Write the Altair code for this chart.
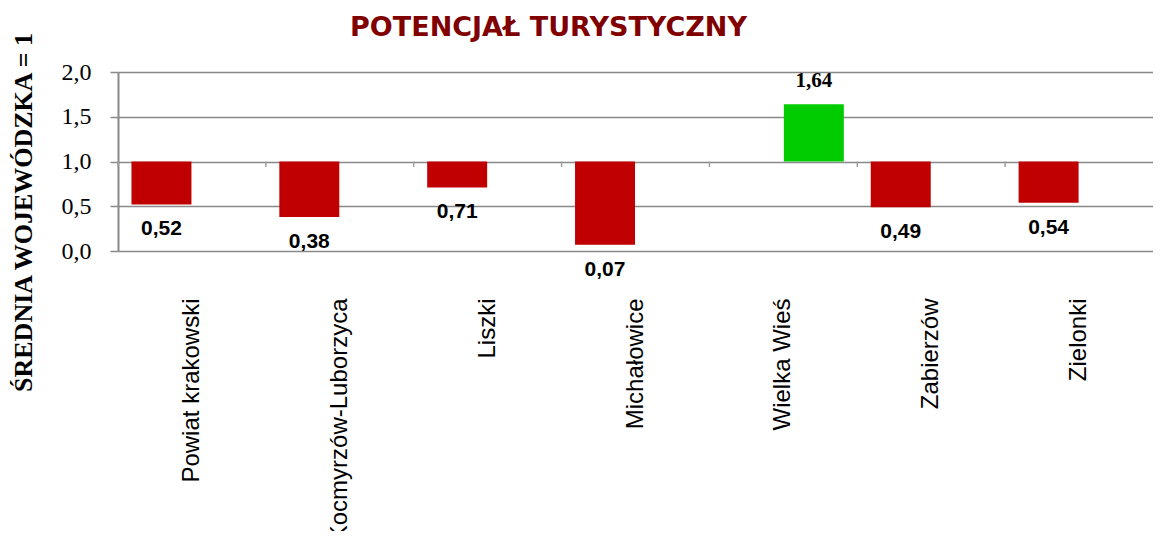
import altair as alt
import pandas as pd

categories = ["Powiat krakowski", "Kocmyrzów-Luborzyca", "Liszki", "Michałowice",
              "Wielka Wieś", "Zabierzów", "Zielonki"]
values = [0.52, 0.38, 0.71, 0.07, 1.64, 0.49, 0.54]
series = ["neg", "neg", "neg", "neg", "pos", "neg", "neg"]
y_ticks = [0.0, 0.5, 1.0, 1.5, 2.0]

df = pd.DataFrame({"cat": categories, "value": values, "series": series})
df["label"] = [f"{v:.2f}".replace(".", ",") for v in values]

GRID = "#898989"

x_enc = alt.X("cat:N", sort=categories,
              scale=alt.Scale(paddingInner=0, paddingOuter=0),
              axis=alt.Axis(title=None, labelAngle=270, labelAlign="right",
                            labelBaseline="middle", labelFont="Liberation Sans",
                            labelFontSize=24, labelColor="#000000", labelPadding=47,
                            domain=False, ticks=False, labelLimit=400))
xoff = alt.XOffset("series:N", scale=alt.Scale(domain=["neg", "pos"],
                                               paddingInner=0.016, paddingOuter=0.221))
y_enc = alt.Y("value:Q", scale=alt.Scale(domain=[0, 2], nice=False, zero=True),
              axis=alt.Axis(title="ŚREDNIA WOJEWÓDZKA = 1", values=y_ticks,
                            labelExpr="replace(format(datum.value, '.1f'), '.', ',')",
                            labelFont="Liberation Serif", labelFontSize=24,
                            labelColor="#000000", labelPadding=19,
                            titleFont="Liberation Serif", titleFontSize=26,
                            titleFontWeight="bold", titleColor="#000000",
                            titleAngle=270, titleX=-95, titleY=140,
                            titleAlign="center", titleBaseline="middle",
                            grid=True, gridColor=GRID, gridWidth=1.5,
                            domain=True, domainColor=GRID, domainWidth=2,
                            ticks=True, tickColor=GRID, tickSize=8, tickWidth=1.5))

base = alt.Chart(df)

bars = base.mark_bar().encode(
    x=x_enc, xOffset=xoff, y=y_enc, y2=alt.datum(1),
    color=alt.Color("series:N", scale=alt.Scale(domain=["neg", "pos"],
                                                 range=["#C00000", "#00CC00"]),
                    legend=None),
)

cat_ticks = base.mark_rule(color="#a0a0a0", strokeWidth=1.5).encode(
    x=alt.X("cat:N", sort=categories, bandPosition=0),
    y=alt.datum(1), y2=alt.value(95),
)

lab_neg = base.transform_filter(alt.datum.series == "neg").mark_text(
    font="Liberation Sans", fontWeight="bold", fontSize=21, dy=25,
    baseline="middle", color="#000000").encode(
    x=alt.X("cat:N", sort=categories), xOffset=xoff,
    y=alt.Y("value:Q"), text="label:N")

lab_pos = base.transform_filter(alt.datum.series == "pos").mark_text(
    font="Liberation Serif", fontWeight="bold", fontSize=21, dy=-23,
    baseline="middle", color="#000000").encode(
    x=alt.X("cat:N", sort=categories), xOffset=xoff,
    y=alt.Y("value:Q"), text="label:N")

chart = alt.layer(bars, cat_ticks, lab_neg, lab_pos).properties(
    width=1035, height=179,
    autosize=alt.AutoSizeParams(type="none"),
    padding={"left": 110, "top": 64, "right": 0, "bottom": 280},
    title=alt.Title("POTENCJAŁ TURYSTYCZNY", font="DejaVu Sans", fontSize=27,
                    fontWeight="bold", color="#800000", anchor="middle",
                    frame="group", dx=-87, baseline="alphabetic", offset=0, dy=32),
).configure_view(stroke=None).configure(background="#ffffff")

chart.save("out.html", embed_options={"renderer": "svg", "actions": False})
